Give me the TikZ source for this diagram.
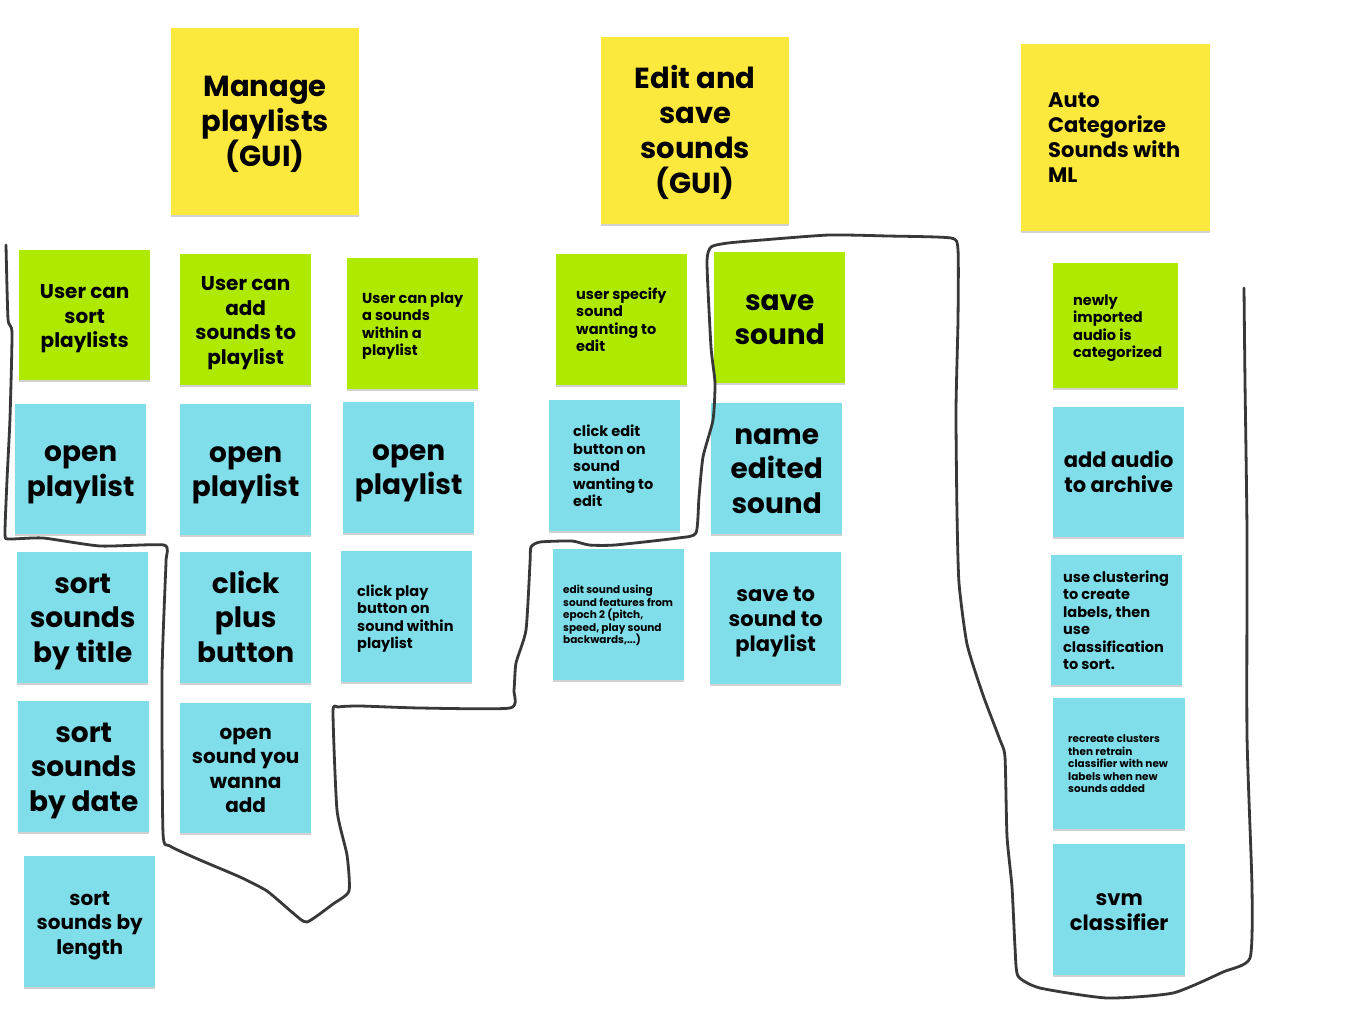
\documentclass[tikz,border=0pt]{standalone}
\usepackage{fontspec}
\setmainfont{Poppins}
\usetikzlibrary{shadows}
\definecolor{yel}{HTML}{FDE93E}
\definecolor{grn}{HTML}{AFE900}
\definecolor{blu}{HTML}{80DEEA}
\definecolor{pen}{HTML}{383838}
\tikzset{
  sticky/.style={rectangle, draw=none, inner sep=0pt, anchor=north west,
    drop shadow={shadow xshift=0pt, shadow yshift=-2pt, opacity=0.18, fill=black}},
  yelnote/.style={sticky, fill=yel},
  grnnote/.style={sticky, fill=grn},
  blunote/.style={sticky, fill=blu},
  ctext/.style={align=center, inner sep=0pt, text=black, yshift=-3pt},
  ltext/.style={align=left, inner sep=0pt, anchor=west, text=black, yshift=-2.5pt},
  fxl/.style={font=\fontsize{29}{35}\selectfont\bfseries},
  fbig/.style={font=\fontsize{28}{34.5}\selectfont\bfseries},
  fmid/.style={font=\fontsize{21}{25}\selectfont\bfseries},
  fmd/.style={font=\fontsize{20}{24.5}\selectfont\bfseries},
  fsm/.style={font=\fontsize{14.5}{17.5}\selectfont\bfseries},
  ftiny/.style={font=\fontsize{10.5}{12.5}\selectfont\bfseries, yshift=1pt},
  pencil/.style={draw=pen, line width=2.8pt, line join=round, line cap=round}
}
\begin{document}
\begin{tikzpicture}[x=1pt, y=-1pt]
\useasboundingbox (0,0) rectangle (1345,1029);
\fill[white] (0,0) rectangle (1345,1029);

% yellow headers
\node[yelnote, minimum width=188pt, minimum height=187pt] (t1) at (171,28) {};
\node[ctext, fxl] (t1t) at (t1.center) {\strut Manage\\playlists\\(GUI)\strut};
\node[yelnote, minimum width=188pt, minimum height=187pt] (t2) at (601,37) {};
\node[ctext, fxl] (t2t) at (t2.center) {\strut Edit and\\save\\sounds\\(GUI)\strut};
\node[yelnote, minimum width=189pt, minimum height=187pt] (t3) at (1021,44) {};
\node[ltext, fmid] (t3t) at ([xshift=27pt]t3.west) {\strut Auto\\Categorize\\Sounds with\\ML\strut};

% green row
\node[grnnote, minimum width=131pt, minimum height=130pt] (g1) at (19,250) {};
\node[ctext, fmd] (g1t) at (g1.center) {\strut User can\\sort\\playlists\strut};
\node[grnnote, minimum width=131pt, minimum height=131pt] (g2) at (180,254) {};
\node[ctext, fmd] (g2t) at (g2.center) {\strut User can\\add\\sounds to\\playlist\strut};
\node[grnnote, minimum width=131pt, minimum height=131pt] (g3) at (347,258) {};
\node[ltext, fsm] (g3t) at ([xshift=15pt]g3.west) {\strut User can play\\a sounds\\within a\\playlist\strut};
\node[grnnote, minimum width=131pt, minimum height=131pt] (g4) at (556,254) {};
\node[ltext, fsm] (g4t) at ([xshift=20pt]g4.west) {\strut user specify\\sound\\wanting to\\edit\strut};
\node[grnnote, minimum width=131pt, minimum height=131pt] (g5) at (714,252) {};
\node[ctext, fbig] (g5t) at (g5.center) {\strut save\\sound\strut};
\node[grnnote, minimum width=125pt, minimum height=125pt] (g6) at (1053,263) {};
\node[ltext, fsm] (g6t) at ([xshift=20pt]g6.west) {\strut newly\\imported\\audio is\\categorized\strut};

% blue row 1
\node[blunote, minimum width=131pt, minimum height=130pt] (b11) at (15,404) {};
\node[ctext, fbig] (b11t) at (b11.center) {\strut open\\playlist\strut};
\node[blunote, minimum width=131pt, minimum height=131pt] (b12) at (180,404) {};
\node[ctext, fbig] (b12t) at (b12.center) {\strut open\\playlist\strut};
\node[blunote, minimum width=131pt, minimum height=131pt] (b13) at (343,402) {};
\node[ctext, fbig] (b13t) at (b13.center) {\strut open\\playlist\strut};
\node[blunote, minimum width=131pt, minimum height=131pt] (b14) at (549,400) {};
\node[ltext, fsm] (b14t) at ([xshift=24pt]b14.west) {\strut click edit\\button on\\sound\\wanting to\\edit\strut};
\node[blunote, minimum width=131pt, minimum height=131pt] (b15) at (711,403) {};
\node[ctext, fbig] (b15t) at (b15.center) {\strut name\\edited\\sound\strut};
\node[blunote, minimum width=131pt, minimum height=130pt] (b16) at (1053,407) {};
\node[ctext, fmid] (b16t) at (b16.center) {\strut add audio\\to archive\strut};

% blue row 2
\node[blunote, minimum width=131pt, minimum height=131pt] (b21) at (17,552) {};
\node[ctext, fbig] (b21t) at (b21.center) {\strut sort\\sounds\\by title\strut};
\node[blunote, minimum width=131pt, minimum height=131pt] (b22) at (180,552) {};
\node[ctext, fbig] (b22t) at (b22.center) {\strut click\\plus\\button\strut};
\node[blunote, minimum width=131pt, minimum height=131pt] (b23) at (341,551) {};
\node[ltext, fsm] (b23t) at ([xshift=16pt]b23.west) {\strut click play\\button on\\sound within\\playlist\strut};
\node[blunote, minimum width=131pt, minimum height=131pt] (b24) at (553,549) {};
\node[ltext, ftiny] (b24t) at ([xshift=10pt]b24.west) {\strut edit sound using\\sound features from\\epoch 2 (pitch,\\speed, play sound\\backwards,...)\strut};
\node[blunote, minimum width=131pt, minimum height=132pt] (b25) at (710,552) {};
\node[ctext, fmid] (b25t) at (b25.center) {\strut save to\\sound to\\playlist\strut};
\node[blunote, minimum width=131pt, minimum height=130pt] (b26) at (1051,555) {};
\node[ltext, fsm] (b26t) at ([xshift=12pt]b26.west) {\strut use clustering\\to create\\labels, then\\use\\classification\\to sort.\strut};

% blue row 3
\node[blunote, minimum width=131pt, minimum height=131pt] (b31) at (18,701) {};
\node[ctext, fbig] (b31t) at (b31.center) {\strut sort\\sounds\\by date\strut};
\node[blunote, minimum width=131pt, minimum height=130pt] (b32) at (180,703) {};
\node[ctext, fmd] (b32t) at (b32.center) {\strut open\\sound you\\wanna\\add\strut};
\node[blunote, minimum width=132pt, minimum height=131pt] (b33) at (1053,698) {};
\node[ltext, ftiny] (b33t) at ([xshift=15pt]b33.west) {\strut recreate clusters\\then retrain\\classifier with new\\labels when new\\sounds added\strut};

% blue row 4
\node[blunote, minimum width=131pt, minimum height=131pt] (b41) at (24,856) {};
\node[ctext, fmd] (b41t) at (b41.center) {\strut sort\\sounds by\\length\strut};
\node[blunote, minimum width=132pt, minimum height=131pt] (b42) at (1053,844) {};
\node[ctext, fmid] (b42t) at (b42.center) {\strut svm\\classifier\strut};

% hand-drawn grouping line
\draw[pencil] plot[smooth, tension=0.35] coordinates {
 (6,245) (8,319) (12,333) (10,418) (7,480) (5,534) (9,539) (43,538) (100,546) (164,545)
 (166,560) (165,587) (162,676) (163,833) (170,846) (200,860) (240,877) (267,891) (293,913)
 (307,922) (333,904) (349,891) (347,855) (337,810) (333,712) (338,707) (360,706) (420,708)
 (510,708) (514,690) (516,663) (526,630) (530,563) (531,547) (540,542) (572,541) (589,545)
 (615,545) (678,538) (696,533) (699,497) (703,457) (713,420) (715,383) (711,347) (707,263)
 (711,247) (728,243) (762,240) (829,235) (888,236) (951,238) (958,250) (958,320) (956,410)
 (957,513) (959,583) (967,644) (983,695) (1000,740) (1005,757) (1007,836) (1012,887)
 (1015,947) (1018,976) (1040,988) (1107,998) (1173,993) (1223,972) (1250,958) (1252,887)
 (1247,735) (1247,533) (1245,382) (1244,288)};
\end{tikzpicture}
\end{document}
